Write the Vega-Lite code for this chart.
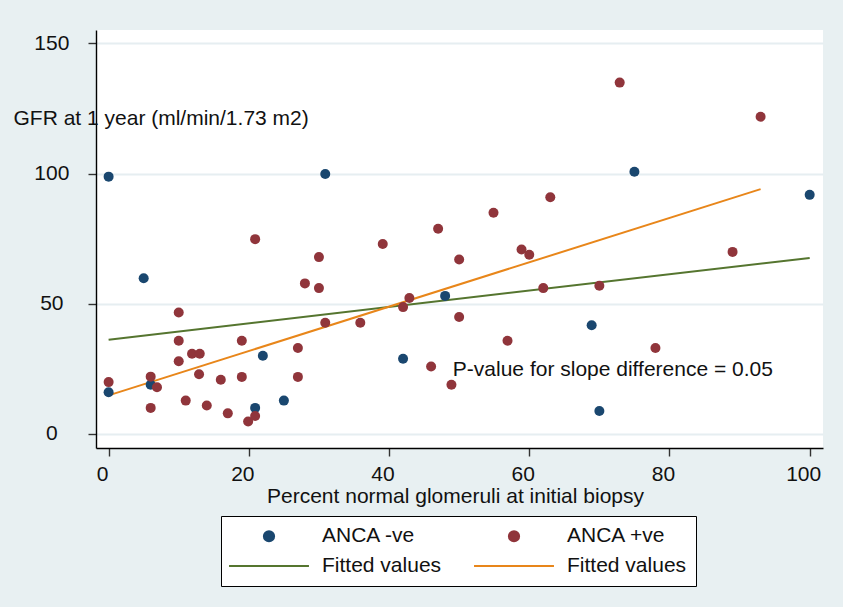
{
  "$schema": "https://vega.github.io/schema/vega-lite/v6.json",
  "width": 727,
  "height": 418,
  "autosize": {"type": "none"},
  "padding": {"left": 96, "top": 30, "right": 20, "bottom": 159},
  "background": "#e8f0f2",
  "config": {
    "view": {"fill": "white", "stroke": null},
    "font": "Liberation Sans",
    "axis": {
      "labelFont": "Liberation Sans",
      "titleFont": "Liberation Sans",
      "labelFontSize": 21,
      "titleFontSize": 21,
      "titleFontWeight": "normal",
      "labelColor": "#111111",
      "titleColor": "#111111",
      "domainColor": "#000000",
      "domainWidth": 1.4,
      "tickColor": "#333333",
      "tickWidth": 1.4,
      "tickSize": 8
    },
    "legend": {
      "title": null,
      "orient": "none",
      "legendX": 125,
      "legendY": 486,
      "direction": "horizontal",
      "columns": 2,
      "padding": 9.5,
      "strokeColor": "#000000",
      "fillColor": "#ffffff",
      "labelFont": "Liberation Sans",
      "labelFontSize": 21,
      "labelColor": "#111111",
      "labelOffset": 42.5,
      "symbolOffset": 28,
      "columnPadding": 28,
      "rowPadding": 8,
      "symbolSize": 105,
      "symbolStrokeWidth": 2
    }
  },
  "datasets": {
    "points": [
      {"series": "ANCA -ve", "pct": 0, "gfr": 98.8},
      {"series": "ANCA -ve", "pct": 30.9, "gfr": 99.8},
      {"series": "ANCA -ve", "pct": 5.0, "gfr": 59.8},
      {"series": "ANCA -ve", "pct": 75.0, "gfr": 100.7},
      {"series": "ANCA -ve", "pct": 100, "gfr": 91.8},
      {"series": "ANCA -ve", "pct": 48.0, "gfr": 53.0},
      {"series": "ANCA -ve", "pct": 0, "gfr": 16.0},
      {"series": "ANCA -ve", "pct": 6.0, "gfr": 18.9},
      {"series": "ANCA -ve", "pct": 22.0, "gfr": 30.0},
      {"series": "ANCA -ve", "pct": 20.9, "gfr": 10.0},
      {"series": "ANCA -ve", "pct": 25.0, "gfr": 12.8},
      {"series": "ANCA -ve", "pct": 42.0, "gfr": 28.9},
      {"series": "ANCA -ve", "pct": 68.9, "gfr": 41.7},
      {"series": "ANCA -ve", "pct": 70.0, "gfr": 8.8},
      {"series": "ANCA +ve", "pct": 20.9, "gfr": 74.8},
      {"series": "ANCA +ve", "pct": 30.0, "gfr": 67.9},
      {"series": "ANCA +ve", "pct": 39.1, "gfr": 72.9},
      {"series": "ANCA +ve", "pct": 28.0, "gfr": 57.8},
      {"series": "ANCA +ve", "pct": 30.0, "gfr": 56.0},
      {"series": "ANCA +ve", "pct": 42.9, "gfr": 52.2},
      {"series": "ANCA +ve", "pct": 72.9, "gfr": 134.9},
      {"series": "ANCA +ve", "pct": 93.0, "gfr": 121.8},
      {"series": "ANCA +ve", "pct": 63.0, "gfr": 90.9},
      {"series": "ANCA +ve", "pct": 54.9, "gfr": 84.9},
      {"series": "ANCA +ve", "pct": 47.0, "gfr": 78.8},
      {"series": "ANCA +ve", "pct": 50.0, "gfr": 67.0},
      {"series": "ANCA +ve", "pct": 58.9, "gfr": 70.8},
      {"series": "ANCA +ve", "pct": 60.0, "gfr": 68.8},
      {"series": "ANCA +ve", "pct": 89.0, "gfr": 69.9},
      {"series": "ANCA +ve", "pct": 62.0, "gfr": 56.0},
      {"series": "ANCA +ve", "pct": 70.0, "gfr": 56.9},
      {"series": "ANCA +ve", "pct": 42.0, "gfr": 48.7},
      {"series": "ANCA +ve", "pct": 30.9, "gfr": 42.7},
      {"series": "ANCA +ve", "pct": 35.9, "gfr": 42.7},
      {"series": "ANCA +ve", "pct": 10.0, "gfr": 46.6},
      {"series": "ANCA +ve", "pct": 10.0, "gfr": 35.8},
      {"series": "ANCA +ve", "pct": 19.0, "gfr": 35.8},
      {"series": "ANCA +ve", "pct": 11.9, "gfr": 30.8},
      {"series": "ANCA +ve", "pct": 13.0, "gfr": 30.8},
      {"series": "ANCA +ve", "pct": 10.0, "gfr": 27.9},
      {"series": "ANCA +ve", "pct": 27.0, "gfr": 33.0},
      {"series": "ANCA +ve", "pct": 0, "gfr": 19.9},
      {"series": "ANCA +ve", "pct": 6.0, "gfr": 22.0},
      {"series": "ANCA +ve", "pct": 6.9, "gfr": 17.9},
      {"series": "ANCA +ve", "pct": 12.9, "gfr": 22.9},
      {"series": "ANCA +ve", "pct": 16.0, "gfr": 20.8},
      {"series": "ANCA +ve", "pct": 19.0, "gfr": 21.9},
      {"series": "ANCA +ve", "pct": 27.0, "gfr": 21.9},
      {"series": "ANCA +ve", "pct": 11.0, "gfr": 12.8},
      {"series": "ANCA +ve", "pct": 14.0, "gfr": 10.9},
      {"series": "ANCA +ve", "pct": 6.0, "gfr": 10.0},
      {"series": "ANCA +ve", "pct": 17.0, "gfr": 7.9},
      {"series": "ANCA +ve", "pct": 19.9, "gfr": 4.8},
      {"series": "ANCA +ve", "pct": 20.9, "gfr": 6.9},
      {"series": "ANCA +ve", "pct": 50.0, "gfr": 44.9},
      {"series": "ANCA +ve", "pct": 56.9, "gfr": 35.8},
      {"series": "ANCA +ve", "pct": 78.0, "gfr": 33.0},
      {"series": "ANCA +ve", "pct": 46.0, "gfr": 25.9},
      {"series": "ANCA +ve", "pct": 48.9, "gfr": 18.9}
    ],
    "fits": [
      {"series": "Fitted -ve", "pct": 0, "gfr": 36.2},
      {"series": "Fitted -ve", "pct": 100, "gfr": 67.6},
      {"series": "Fitted +ve", "pct": 0, "gfr": 14.8},
      {"series": "Fitted +ve", "pct": 93, "gfr": 94.0}
    ],
    "note": [
      {"label": "P-value for slope difference = 0.05", "pct": 49.1, "gfr": 24.5}
    ]
  },
  "layer": [
    {
      "data": {"name": "fits"},
      "mark": {"type": "line", "strokeWidth": 2},
      "encoding": {
        "x": {"field": "pct", "type": "quantitative"},
        "y": {"field": "gfr", "type": "quantitative"},
        "color": {"field": "series", "type": "nominal"},
        "detail": {"field": "series"}
      }
    },
    {
      "data": {"name": "points"},
      "mark": {"type": "point", "filled": true, "opacity": 1, "size": 100},
      "encoding": {
        "x": {
          "field": "pct",
          "type": "quantitative",
          "scale": {"domain": [-1.8, 101.9], "nice": false, "zero": false},
          "axis": {
            "values": [0, 20, 40, 60, 80, 100],
            "grid": false,
            "labelOffset": -6.5,
            "labelPadding": 7,
            "title": "Percent normal glomeruli at initial biopsy",
            "titleX": 359,
            "titleY": 37,
            "titleBaseline": "top"
          }
        },
        "y": {
          "field": "gfr",
          "type": "quantitative",
          "scale": {"domain": [-5.4, 155.1], "nice": false, "zero": false},
          "axis": {
            "values": [0, 50, 100, 150],
            "grid": true,
            "gridColor": "#e6eef1",
            "gridWidth": 2,
            "labelAlign": "center",
            "labelBaseline": "middle",
            "labelPadding": 36.7,
            "title": "GFR at 1 year (ml/min/1.73 m2)",
            "titleAngle": 0,
            "titleAlign": "left",
            "titleBaseline": "middle",
            "titleX": -83,
            "titleY": 88,
            "encode": {
              "labels": {
                "update": {
                  "dy": {"signal": "datum.value == 150 ? -8 : datum.value == 100 ? -7 : datum.value == 50 ? 2 : 12.5"},
                  "dx": {"signal": "datum.value == 150 ? 5 : datum.value == 100 ? 1.5 : datum.value == 50 ? -1.5 : -3"}
                }
              }
            }
          }
        },
        "color": {
          "field": "series",
          "type": "nominal",
          "scale": {
            "domain": ["ANCA -ve", "ANCA +ve", "Fitted -ve", "Fitted +ve"],
            "range": ["#1a476f", "#90353b", "#55752f", "#e8861a"]
          },
          "legend": {
            "labelExpr": "indexof(datum.label, 'Fitted') == 0 ? 'Fitted values' : datum.label",
            "encode": {
              "symbols": {
                "update": {
                  "fill": {"signal": "scale('color', datum.value)"},
                  "stroke": {"signal": "scale('color', datum.value)"},
                  "strokeWidth": {"signal": "indexof(datum.value, 'Fitted') == 0 ? 2.2 : 0"},
                  "opacity": {"value": 1}
                }
              }
            }
          }
        },
        "shape": {
          "field": "series",
          "type": "nominal",
          "scale": {
            "domain": ["ANCA -ve", "ANCA +ve", "Fitted -ve", "Fitted +ve"],
            "range": ["circle", "circle", "M-7.8,0H7.8", "M-7.8,0H7.8"]
          },
          "legend": {
            "labelExpr": "indexof(datum.label, 'Fitted') == 0 ? 'Fitted values' : datum.label",
            "encode": {
              "symbols": {
                "update": {
                  "fill": {"signal": "scale('color', datum.value)"},
                  "stroke": {"signal": "scale('color', datum.value)"},
                  "strokeWidth": {"signal": "indexof(datum.value, 'Fitted') == 0 ? 2.2 : 0"},
                  "opacity": {"value": 1}
                }
              }
            }
          }
        }
      }
    },
    {
      "data": {"name": "note"},
      "mark": {"type": "text", "align": "left", "baseline": "middle", "fontSize": 21, "font": "Liberation Sans", "color": "#111111"},
      "encoding": {
        "x": {"field": "pct", "type": "quantitative"},
        "y": {"field": "gfr", "type": "quantitative"},
        "text": {"field": "label"}
      }
    }
  ]
}
